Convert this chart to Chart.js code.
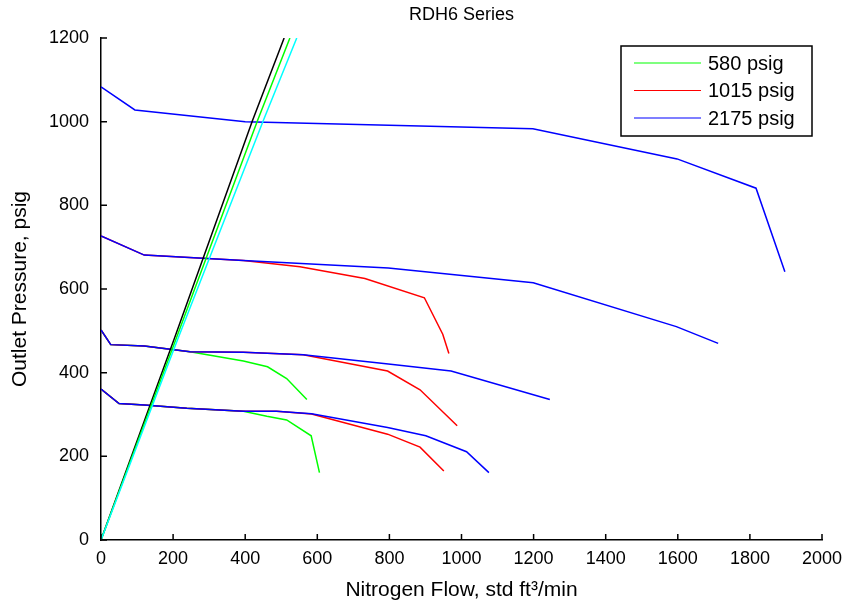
<!DOCTYPE html>
<html>
<head>
<meta charset="utf-8">
<script src="https://cdn.jsdelivr.net/npm/chart.js@4.4.1/dist/chart.umd.min.js"></script>
<style>
html,body{margin:0;padding:0;background:#fff;}
canvas{display:block;}
</style>
</head>
<body>
<canvas id="c" width="846" height="603"></canvas>
<script>
// ---- Data (flow in std ft3/min, outlet pressure in psig) ----
const xTicks = [0, 200, 400, 600, 800, 1000, 1200, 1400, 1600, 1800, 2000];
const yTicks = [0, 200, 400, 600, 800, 1000, 1200];

// 580 psig (green)
const g1Flow = [0, 50, 120, 238, 395, 460, 515, 583, 606];
const g1Pres = [361, 326, 323, 315, 308, 296, 287, 249, 161];
const g2Flow = [0, 27, 120, 247, 395, 462, 515, 571];
const g2Pres = [502, 467, 464, 450, 428, 414, 386, 336];

// 1015 psig (red)
const r1Flow = [0, 50, 120, 238, 395, 487, 584, 795, 885, 951];
const r1Pres = [361, 326, 323, 315, 308, 308, 301, 253, 222, 165];
const r2Flow = [0, 27, 120, 247, 395, 561, 795, 885, 988];
const r2Pres = [502, 467, 464, 450, 449, 443, 404, 359, 273];
const r3Flow = [0, 120, 395, 552, 732, 897, 948, 965];
const r3Pres = [727, 681, 668, 653, 625, 579, 492, 446];

// 2175 psig (blue)
const b1Flow = [0, 50, 120, 238, 395, 487, 584, 795, 901, 1014, 1076];
const b1Pres = [361, 326, 323, 315, 308, 308, 302, 269, 249, 211, 161];
const b2Flow = [0, 27, 120, 247, 395, 561, 797, 971, 1245];
const b2Pres = [502, 467, 464, 450, 449, 443, 421, 404, 336];
const b3Flow = [0, 120, 395, 797, 1199, 1596, 1712];
const b3Pres = [727, 681, 668, 650, 615, 510, 470];
const b4Flow = [0, 94, 400, 1198, 1598, 1817, 1897];
const b4Pres = [1083, 1028, 1000, 983, 911, 841, 641];

// Steep lines from the origin
const kFlow = [0, 202, 420, 508];
const kPres = [0, 478, 1002, 1200];
const gsFlow = [0, 207, 434, 524];
const gsPres = [0, 478, 1002, 1200];
const cFlow = [0, 212, 450, 543];
const cPres = [0, 478, 1002, 1200];

const legendLabels = ['580 psig', '1015 psig', '2175 psig'];
const chartTitle = 'RDH6 Series';

// ---- Build datasets ----
const GREEN = '#00ff00', RED = '#ff0000', BLUE = '#0000ff', CYAN = '#00ffff', BLACK = '#000000';
const FONT = '"Liberation Sans", Arial, sans-serif';
function pts(xs, ys) { return xs.map((x, i) => ({x: x, y: ys[i]})); }
function ds(label, xs, ys, color, order) {
  return {label: label, data: pts(xs, ys), borderColor: color, backgroundColor: color,
    borderWidth: 1.5, pointRadius: 0, pointHoverRadius: 0, tension: 0, fill: false, order: order};
}
const datasets = [
  ds(legendLabels[0], g1Flow, g1Pres, GREEN, 4),
  ds(legendLabels[0], g2Flow, g2Pres, GREEN, 4),
  ds(legendLabels[1], r1Flow, r1Pres, RED, 3),
  ds(legendLabels[1], r2Flow, r2Pres, RED, 3),
  ds(legendLabels[1], r3Flow, r3Pres, RED, 3),
  ds(legendLabels[2], b1Flow, b1Pres, BLUE, 2),
  ds(legendLabels[2], b2Flow, b2Pres, BLUE, 2),
  ds(legendLabels[2], b3Flow, b3Pres, BLUE, 2),
  ds(legendLabels[2], b4Flow, b4Pres, BLUE, 2),
  ds('', cFlow, cPres, CYAN, 1),
  ds('', gsFlow, gsPres, GREEN, 1),
  ds('', kFlow, kPres, BLACK, 1)
];

// ---- Plugins: inward ticks, centred title and boxed legend ----
const innerTicks = {
  id: 'innerTicks',
  afterDraw(chart) {
    const ctx = chart.ctx, xs = chart.scales.x, ys = chart.scales.y;
    const x0 = xs.getPixelForValue(0), y0 = ys.getPixelForValue(0);
    ctx.save();
    ctx.strokeStyle = '#000';
    ctx.lineWidth = 1.5;
    ctx.beginPath();
    xTicks.forEach(v => { const p = xs.getPixelForValue(v); ctx.moveTo(p, y0); ctx.lineTo(p, y0 - 6); });
    yTicks.forEach(v => { const p = ys.getPixelForValue(v); ctx.moveTo(x0, p); ctx.lineTo(x0 + 6, p); });
    ctx.stroke();
    ctx.restore();
  }
};
const plotTitle = {
  id: 'plotTitle',
  afterDraw(chart) {
    const ctx = chart.ctx, a = chart.chartArea;
    ctx.save();
    ctx.font = '18px ' + FONT;
    ctx.fillStyle = '#000';
    ctx.textAlign = 'center';
    ctx.textBaseline = 'middle';
    ctx.fillText(chartTitle, (a.left + a.right) / 2, 15);
    ctx.restore();
  }
};
const boxLegend = {
  id: 'boxLegend',
  afterDraw(chart) {
    const ctx = chart.ctx;
    const items = [];
    chart.data.datasets.forEach(d => {
      if (d.label && !items.find(it => it.label === d.label)) items.push({label: d.label, color: d.borderColor});
    });
    const x0 = 621, y0 = 46, w = 191, h = 90;
    ctx.save();
    ctx.fillStyle = '#fff';
    ctx.fillRect(x0, y0, w, h);
    ctx.strokeStyle = '#000';
    ctx.lineWidth = 1.5;
    ctx.strokeRect(x0, y0, w, h);
    ctx.font = '20px ' + FONT;
    ctx.textBaseline = 'middle';
    ctx.textAlign = 'left';
    items.forEach((it, i) => {
      const y = 63 + i * 27.5;
      ctx.strokeStyle = it.color;
      ctx.lineWidth = 1.2;
      ctx.beginPath(); ctx.moveTo(634, y); ctx.lineTo(701, y); ctx.stroke();
      ctx.fillStyle = '#000';
      ctx.fillText(it.label, 708, y + 1);
    });
    ctx.restore();
  }
};

Chart.defaults.color = '#000';
Chart.defaults.font.family = FONT;

new Chart(document.getElementById('c'), {
  type: 'line',
  data: {datasets: datasets},
  options: {
    responsive: false,
    devicePixelRatio: 1,
    animation: false,
    events: [],
    layout: {padding: {left: 0, right: 24, top: 38, bottom: 0}},
    plugins: {
      legend: {display: false},
      tooltip: {enabled: false},
      title: {display: false}
    },
    scales: {
      x: {
        type: 'linear', min: 0, max: 2000,
        afterFit(s) { s.height = 63; s.paddingLeft = 0; s.paddingRight = 0; },
        afterBuildTicks(s) { s.ticks = xTicks.map(v => ({value: v})); },
        ticks: {font: {size: 18}, padding: 8, maxRotation: 0, autoSkip: false, callback: v => String(v)},
        grid: {display: false, drawTicks: false},
        border: {display: true, color: '#000', width: 1.5},
        title: {display: true, text: 'Nitrogen Flow, std ft³/min', font: {size: 21}, padding: {top: 0, bottom: 0}}
      },
      y: {
        type: 'linear', min: 0, max: 1200,
        afterFit(s) { s.width = 101; s.paddingTop = 0; s.paddingBottom = 0; },
        afterBuildTicks(s) { s.ticks = yTicks.map(v => ({value: v})); },
        ticks: {font: {size: 18}, padding: 12, autoSkip: false, callback: v => String(v)},
        grid: {display: false, drawTicks: false},
        border: {display: true, color: '#000', width: 1.5},
        title: {display: true, text: 'Outlet Pressure, psig', font: {size: 21}, padding: {top: 8, bottom: 0}}
      }
    }
  },
  plugins: [innerTicks, plotTitle, boxLegend]
});
</script>
</body>
</html>
